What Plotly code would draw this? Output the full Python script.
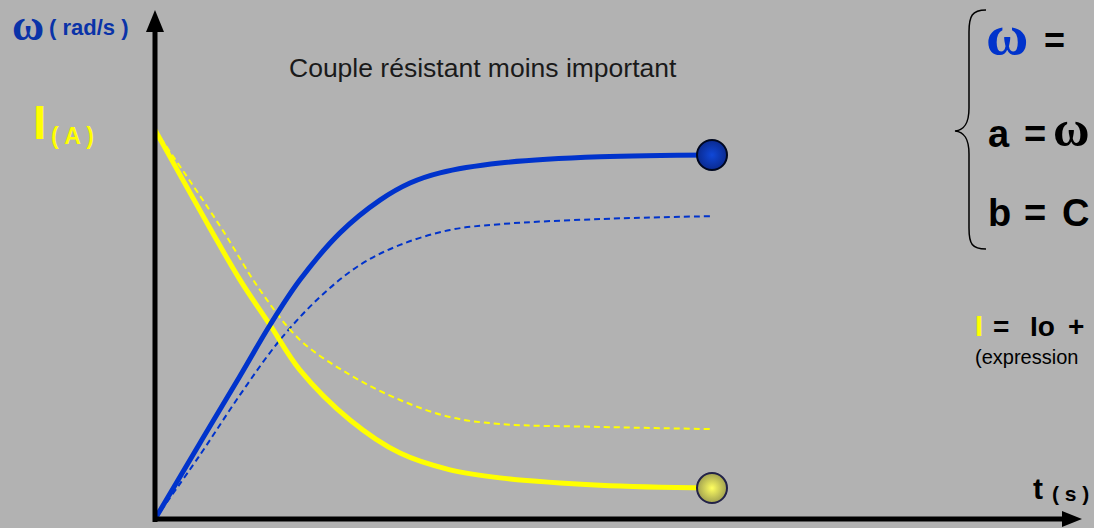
import plotly.graph_objects as go

# ---- data (t in s, omega in rad/s, I in arbitrary units on the same scale) ----
t_w_full = [0, 0.808, 1.526, 2.065, 2.603, 3.321, 4.039, 4.578, 5.117, 6.194, 7.989, 10]
w_full = [0, 20.9, 39.3, 53.3, 65.7, 78.6, 87.6, 92.3, 95.1, 97.8, 99.5, 100]

t_w_dash = [0, 0.808, 1.526, 2.244, 2.962, 3.68, 4.399, 5.296, 6.194, 7.989, 10]
w_dash = [0, 17.6, 34.1, 49.2, 61.0, 69.8, 75.3, 79.4, 81.0, 82.4, 83.2]

t_i_full = [0, 0.987, 1.526, 2.065, 2.603, 3.501, 4.399, 5.296, 6.194, 7.989, 10]
i_full = [106.9, 79.9, 65.7, 53.3, 40.9, 27.2, 18.1, 13.5, 11.3, 9.3, 8.5]

t_i_dash = [0, 1.167, 1.885, 2.603, 3.501, 4.399, 5.296, 6.194, 7.989, 10]
i_dash = [106.9, 80.5, 62.9, 49.2, 39.6, 32.7, 28.0, 26.1, 25.3, 24.7]

W, H = 1094, 528
OX, OY = 155, 519           # origin pixel
PX_T, PX_V = 55.7, 3.64     # pixels per unit

BG = "#b2b2b2"
BLUE = "#0033cc"
YEL = "#ffff00"

fig = go.Figure()
fig.add_trace(go.Scatter(x=t_w_dash, y=w_dash, mode="lines", line=dict(color=BLUE, width=2, dash="6px,4px", shape="spline"), hoverinfo="skip"))
fig.add_trace(go.Scatter(x=t_i_dash, y=i_dash, mode="lines", line=dict(color=YEL, width=2, dash="6px,4px", shape="spline"), hoverinfo="skip"))
fig.add_trace(go.Scatter(x=t_i_full, y=i_full, mode="lines", line=dict(color=YEL, width=5, shape="spline"), hoverinfo="skip"))
fig.add_trace(go.Scatter(x=t_w_full, y=w_full, mode="lines", line=dict(color=BLUE, width=5, shape="spline"), hoverinfo="skip"))
fig.add_trace(go.Scatter(x=[t_w_full[-1]], y=[w_full[-1]], mode="markers",
                         marker=dict(size=30, color="#0a2a90", line=dict(width=2, color="#000820"),
                                     gradient=dict(type="radial", color="#1048d8")), hoverinfo="skip"))
fig.add_trace(go.Scatter(x=[t_i_full[-1]], y=[i_full[-1]], mode="markers",
                         marker=dict(size=30, color="#a0a050", line=dict(width=2, color="#222248"),
                                     gradient=dict(type="radial", color="#ffff60")), hoverinfo="skip"))


def px(x):
    return x / W


def py(y):
    return 1 - y / H


shapes = []
# axes lines
shapes.append(dict(type="line", xref="paper", yref="paper", x0=px(OX), y0=py(OY + 3), x1=px(OX), y1=py(28),
                   line=dict(color="black", width=5)))
shapes.append(dict(type="line", xref="paper", yref="paper", x0=px(OX - 2), y0=py(OY), x1=px(1066), y1=py(OY),
                   line=dict(color="black", width=5)))


def path(pts, close=True):
    s = "M " + " L ".join(f"{px(a):.5f},{py(b):.5f}" for a, b in pts)
    return s + (" Z" if close else "")


shapes.append(dict(type="path", xref="paper", yref="paper", path=path([(OX, 10), (OX - 9, 32), (OX + 9, 32)]),
                   fillcolor="black", line=dict(width=0)))
shapes.append(dict(type="path", xref="paper", yref="paper", path=path([(1082, OY), (1062, OY - 8), (1062, OY + 8)]),
                   fillcolor="black", line=dict(width=0)))


# brace
def c(a, b):
    return f"{px(a):.5f},{py(b):.5f}"


brace = (f"M {c(986, 10)} C {c(972, 10)} {c(969, 16)} {c(969, 32)} L {c(969, 108)} "
         f"C {c(969, 124)} {c(964, 130)} {c(955, 131)} C {c(964, 132)} {c(969, 138)} {c(969, 154)} "
         f"L {c(969, 228)} C {c(969, 244)} {c(972, 249)} {c(986, 249)}")
shapes.append(dict(type="path", xref="paper", yref="paper", path=brace, line=dict(color="black", width=1.5)))

ann = []


def text(x, y, s, size, color="black", family="Arial", bold=False, anchor="left"):
    ann.append(dict(xref="paper", yref="paper", x=px(x), y=py(y), text=(f"<b>{s}</b>" if bold else s),
                    showarrow=False, xanchor=anchor, yanchor="middle", borderpad=0,
                    font=dict(size=size, color=color, family=family)))


# left axis labels
text(11, 25, "ω", 44, "#0a33a8", "Liberation Serif", True)
text(48, 27, "( rad/s )", 22, "#0a33a8", "Arial", True)
text(32, 122, "I", 48, YEL, "Arial", True)
text(50, 136, "( A )", 23, YEL, "Arial", True)

# title
text(483, 68, "Couple résistant moins important", 26.5, "#1a1a1a", "Arial", False, "center")

# right side formulas
text(985, 34, "ω", 58, BLUE, "Liberation Serif", True)
text(1043, 40, "=", 36, "black", "Arial", True)
text(987, 134, "a", 38, "black", "Arial", True)
text(1023, 134, "=", 38, "black", "Arial", True)
text(1052, 129, "ω", 50, "black", "Liberation Serif", True)
text(987, 213, "b", 38, "black", "Arial", True)
text(1023, 213, "=", 38, "black", "Arial", True)
text(1061, 213, "C", 38, "black", "Arial", True)

text(974, 326, "I", 29, YEL, "Arial", True)
text(992, 326, "=", 28, "black", "Arial", True)
text(1029, 326, "Io", 28, "black", "Arial", True)
text(1067, 326, "+", 28, "black", "Arial", True)
text(974, 357, "(expression", 20, "black", "Arial", False)

text(1032, 488, "t", 30, "black", "Arial", True)
text(1051, 493, "( s )", 21, "black", "Arial", True)

fig.update_layout(
    width=W, height=H, margin=dict(l=0, r=0, t=0, b=0),
    paper_bgcolor=BG, plot_bgcolor=BG, showlegend=False,
    xaxis=dict(range=[-OX / PX_T, (W - OX) / PX_T], visible=False, fixedrange=True),
    yaxis=dict(range=[(OY - H) / PX_V, OY / PX_V], visible=False, fixedrange=True),
    shapes=shapes, annotations=ann,
)

fig.write_html("out.html", config={"displayModeBar": False},
               post_script="document.body.style.margin='0px';document.body.style.overflow='hidden';")
